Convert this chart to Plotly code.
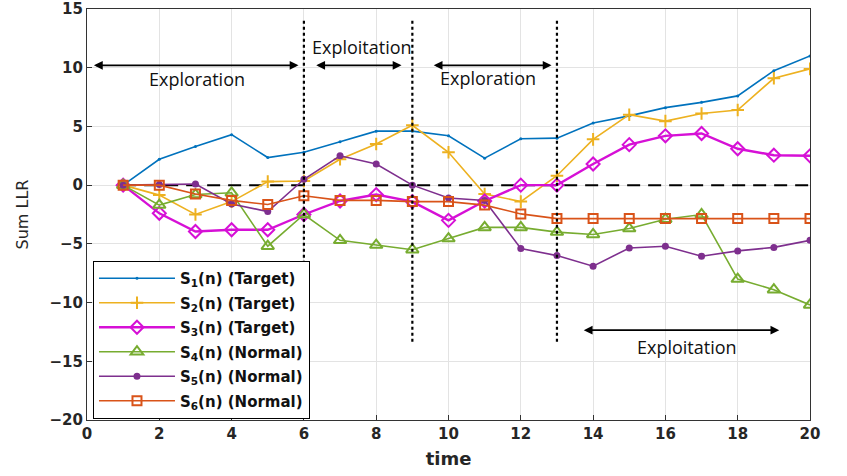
import plotly.graph_objects as go

time = list(range(1, 21))
s1 = [0, 2.2, 3.3, 4.3, 2.35, 2.8, 3.7, 4.6, 4.6, 4.2, 2.3, 3.95, 4.0, 5.3, 5.9, 6.6, 7.05, 7.6, 9.75, 11.0]
s2 = [0, -0.85, -2.5, -1.4, 0.3, 0.35, 2.2, 3.5, 5.1, 2.8, -0.75, -1.4, 0.8, 3.9, 6.0, 5.45, 6.1, 6.4, 9.1, 9.9]
s3 = [0, -2.4, -3.95, -3.8, -3.8, -2.5, -1.35, -0.8, -1.4, -3.0, -1.35, 0.0, 0.0, 1.8, 3.45, 4.2, 4.4, 3.1, 2.55, 2.5]
s4 = [0, -1.7, -0.8, -0.65, -5.2, -2.5, -4.7, -5.1, -5.5, -4.55, -3.6, -3.6, -4.0, -4.2, -3.7, -2.9, -2.5, -8.0, -8.9, -10.2]
s5 = [0, 0.05, 0.1, -1.6, -2.25, 0.5, 2.5, 1.8, 0.0, -1.1, -1.3, -5.4, -6.0, -6.9, -5.35, -5.2, -6.05, -5.6, -5.3, -4.7]
s6 = [0, 0.0, -0.75, -1.3, -1.65, -0.9, -1.3, -1.3, -1.4, -1.4, -1.7, -2.45, -2.85, -2.85, -2.85, -2.85, -2.85, -2.85, -2.85, -2.85]

names = ["S<sub>1</sub>(n) (Target)", "S<sub>2</sub>(n) (Target)", "S<sub>3</sub>(n) (Target)",
         "S<sub>4</sub>(n) (Normal)", "S<sub>5</sub>(n) (Normal)", "S<sub>6</sub>(n) (Normal)"]
series = [s1, s2, s3, s4, s5, s6]
colors = ["#0072BD", "#EDB120", "#D610D6", "#77AC30", "#7E2F8E", "#D95319"]
symbols = ["circle", "cross-thin-open", "diamond-open", "triangle-up-open", "circle", "square-open"]
msizes = [3, 9, 10, 11, 7, 9]
lwidths = [1.6, 1.6, 2.4, 1.6, 1.6, 1.6]

x_ticks = list(range(0, 21, 2))
y_ticks = list(range(-20, 16, 5))

# phase boundaries and annotation definitions
phase_bounds = [6, 9, 13]
bound_y = [14.0, -13.6]
zero_x = [1, 20]
zero_y = [0, 0]
arrows = [  # (x_start, x_end, y)
    (0.15, 5.85, 10.2),
    (6.3, 8.7, 10.2),
    (9.55, 12.85, 10.2),
    (13.7, 19.15, -12.35),
]
labels = [  # (text, x, y)
    ("Exploration", 3.05, 9.0),
    ("Exploitation", 7.6, 11.8),
    ("Exploration", 11.1, 9.1),
    ("Exploitation", 16.6, -13.8),
]

fig = go.Figure()

fig.add_trace(go.Scatter(x=zero_x, y=zero_y, mode="lines",
                         line=dict(color="black", width=2, dash="13px,8px"),
                         showlegend=False, hoverinfo="skip"))

for i, (nm, ys) in enumerate(zip(names, series)):
    mk = dict(symbol=symbols[i], size=msizes[i], color=colors[i],
              line=dict(color=colors[i], width=2 if i in (1, 2, 3, 5) else 0))
    fig.add_trace(go.Scatter(x=time, y=ys, mode="lines+markers", name=nm,
                             legendgroup=f"g{i}",
                             line=dict(color=colors[i], width=lwidths[i]),
                             marker=mk))

for xb in phase_bounds:
    fig.add_trace(go.Scatter(x=[xb, xb], y=bound_y, mode="lines",
                             line=dict(color="black", width=2.2, dash="dot"),
                             showlegend=False, hoverinfo="skip"))

for (xs, xe, yy) in arrows:
    fig.add_annotation(x=xe, y=yy, ax=xs, ay=yy, xref="x", yref="y",
                       axref="x", ayref="y", text="", showarrow=True,
                       arrowhead=2, startarrowhead=2, arrowside="end+start",
                       arrowsize=1.1, startarrowsize=1.1, arrowwidth=1.6,
                       arrowcolor="black")

for (txt, xx, yy) in labels:
    fig.add_annotation(x=xx, y=yy, xref="x", yref="y", text=txt, showarrow=False,
                       font=dict(family="Open Sans", size=18, color="#111111"))

axis_common = dict(showgrid=True, gridcolor="#E3E3E3", gridwidth=1,
                   showline=True, linecolor="#333333", linewidth=1.2, mirror=True,
                   ticks="inside", ticklen=5, tickcolor="#333333", zeroline=False,
                   ticklabeloverflow="allow", automargin=False,
                   tickfont=dict(family="DejaVu Sans", size=15, color="#262626",
                                 weight="bold"))

fig.update_layout(
    width=847, height=476,
    margin=dict(l=87, r=37, t=9, b=56),
    paper_bgcolor="white", plot_bgcolor="white",
    xaxis=dict(range=[0, 20], tickvals=x_ticks,
               title=dict(text="time", standoff=10,
                          font=dict(family="DejaVu Sans", size=18, color="#262626",
                                    weight="bold")),
               **axis_common),
    yaxis=dict(range=[-20, 15], tickvals=y_ticks,
               title=dict(text="Sum LLR", standoff=16,
                          font=dict(family="DejaVu Sans", size=16, color="#262626")),
               **axis_common),
    legend=dict(x=0.008, y=0.003, xanchor="left", yanchor="bottom",
                bgcolor="white", bordercolor="black", borderwidth=1.2,
                tracegroupgap=2, traceorder="grouped", itemwidth=76,
                font=dict(family="DejaVu Sans", size=15, color="#111111",
                          weight="bold")),
)

fig.write_html("out.html", config={"displayModeBar": False},
               post_script="document.body.style.margin='0';")
